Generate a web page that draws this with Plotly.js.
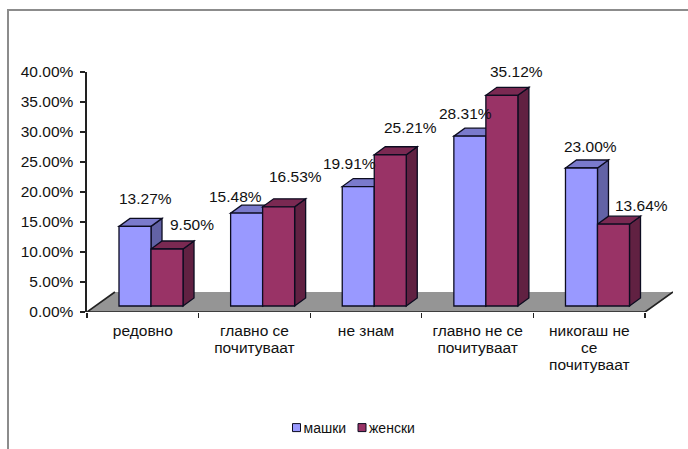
<!DOCTYPE html>
<html>
<head>
<meta charset="utf-8">
<script src="https://cdn.plot.ly/plotly-3.0.1.min.js"></script>
<style>
html,body{margin:0;padding:0;background:#fff;overflow:hidden}
#chart{position:absolute;left:0;top:0;width:688px;height:449px}
#frame{position:absolute;left:7px;top:9px;right:0;bottom:0;border-left:2px solid #8c8c8c;border-top:2px solid #8c8c8c;pointer-events:none}
</style>
</head>
<body>
<div id="chart"></div>
<div id="frame"></div>
<script>
// Data
const categories = ['редовно', 'главно се<br>почитуваат', 'не знам', 'главно не се<br>почитуваат', 'никогаш не<br>се<br>почитуваат'];
const seriesNames = ['машки', 'женски'];
const maski = [13.27, 15.48, 19.91, 28.31, 23.00];
const zenski = [9.50, 16.53, 25.21, 35.12, 13.64];
const yTicks = [0, 5, 10, 15, 20, 25, 30, 35, 40];

// Data-label nudges (px), relative to the top centre of each bar
const labelShiftX = [[10.5, -11.6, -9.2, -4.8, 8.6], [25, 16.4, 19.8, 14.2, 27.6]];
const labelShiftY = [[27.4, 17, 23, 23, 22], [25, 30, 27, 24, 19]];

// Fake-3D geometry, in axis units
const barW = 0.2867, off = [-0.2133, 0.0735];
const lift = 1;
const depthX = 0.0986, depthY = 1.33;
const floorX = 0.25, floorY = 3.33;
const xMin = -0.5, xMax = 4.5;

const front = ['#9999FF', '#993366'];
const top3d = ['#7A7ACC', '#7A2952'];
const side = ['#6262A6', '#612142'];
const edge = '#0c0c20';
const font = 'Liberation Sans, Arial, sans-serif';
const series = [maski, zenski];

const poly = (pts, fill) => ({
  type: 'path', xref: 'x', yref: 'y', layer: 'below',
  path: 'M' + pts.map(p => p[0] + ',' + p[1]).join('L') + 'Z',
  fillcolor: fill, line: {color: edge, width: 1.3}
});

const shapes = [];
shapes.push({type: 'path', xref: 'x', yref: 'y', layer: 'below',
  path: `M${xMin},0L${xMin + floorX},${floorY}L${xMax + floorX},${floorY}L${xMax},0Z`,
  fillcolor: '#959595', line: {width: 0}});
shapes.push({type: 'path', xref: 'x', yref: 'y', layer: 'below',
  path: `M${xMin + floorX},${floorY}L${xMin},0L${xMax},0L${xMax + floorX},${floorY}`,
  fillcolor: 'rgba(0,0,0,0)', line: {color: '#222', width: 1.6}});
categories.forEach((c, i) => {
  series.forEach((vals, s) => {
    const l = i + off[s], r = l + barW, t = lift + vals[i];
    shapes.push(poly([[r, lift], [r + depthX, lift + depthY], [r + depthX, t + depthY], [r, t]], side[s]));
    shapes.push(poly([[l, t], [r, t], [r + depthX, t + depthY], [l + depthX, t + depthY]], top3d[s]));
  });
});

const traces = series.map((vals, s) => ({
  type: 'bar', x: categories.map((c, i) => i), y: vals, base: lift,
  width: barW, offset: off[s], name: seriesNames[s], showlegend: false, hoverinfo: 'skip',
  marker: {color: front[s], line: {color: edge, width: 1.3}}
}));
seriesNames.forEach((n, s) => traces.push({
  type: 'scatter', mode: 'markers', x: [null], y: [null], name: n, hoverinfo: 'skip',
  marker: {symbol: 'square', size: 8, color: front[s], line: {color: edge, width: 1}}
}));

const annotations = [];
series.forEach((vals, s) => vals.forEach((v, i) => annotations.push({
  x: i + off[s] + barW / 2, y: lift + v, xref: 'x', yref: 'y',
  text: v.toFixed(2) + '%', showarrow: false, xanchor: 'center', yanchor: 'middle',
  xshift: labelShiftX[s][i], yshift: labelShiftY[s][i],
  font: {family: font, size: 15.5, color: '#111'}
})));

const layout = {
  width: 688, height: 449, autosize: false,
  margin: {l: 87, r: 15, t: 72, b: 137, pad: 0},
  paper_bgcolor: '#fff', plot_bgcolor: 'rgba(0,0,0,0)',
  barmode: 'overlay', font: {family: font, color: '#111'},
  xaxis: {
    type: 'linear', range: [xMin, xMax + floorX], showgrid: false, zeroline: false, showline: false,
    tickmode: 'array', tickvals: categories.map((c, i) => i), ticktext: categories,
    ticks: '', tickangle: 0, tickfont: {family: font, size: 15.5, color: '#111'},
    ticklabelstandoff: 7,
    minor: {tickmode: 'array', tickvals: [-0.5, 0.5, 1.5, 2.5, 3.5, 4.5], ticks: 'outside', ticklen: 5, tickwidth: 1.2, tickcolor: '#222', showgrid: false}
  },
  yaxis: {
    range: [0, 40], showgrid: false, zeroline: false, showline: true, linecolor: '#222', linewidth: 1.6,
    tickmode: 'array', tickvals: yTicks, ticktext: yTicks.map(v => v.toFixed(2) + '%'),
    ticks: 'outside', ticklen: 5, tickwidth: 1.2, tickcolor: '#222',
    tickfont: {family: font, size: 15.5, color: '#111'}, ticklabelstandoff: 4
  },
  legend: {
    orientation: 'h', xref: 'container', yref: 'container',
    x: 276.5 / 688, xanchor: 'left', y: 1 - 428 / 449, yanchor: 'middle',
    entrywidthmode: 'pixels', entrywidth: 60, itemwidth: 30,
    font: {family: font, size: 14, color: '#111'}, bgcolor: 'rgba(0,0,0,0)'
  },
  shapes: shapes, annotations: annotations, showlegend: true
};

// Small finishing touches Plotly has no attribute for: tighter line spacing in the
// category labels, and tighter swatch/text spacing in the legend.
const catLineStep = 17.3, legendAdvance = 65.5, legendTextPull = 13;
Plotly.newPlot('chart', traces, layout, {displayModeBar: false, staticPlot: true}).then(gd => {
  gd.querySelectorAll('.xtick text').forEach(t => {
    t.querySelectorAll('tspan.line').forEach((sp, n) => sp.setAttribute('dy', (n * catLineStep) + 'px'));
  });
  const items = gd.querySelectorAll('.legend .traces');
  const first = /translate\(\s*([-\d.]+)[ ,]+([-\d.]+)/.exec(items[0].getAttribute('transform'));
  items.forEach((it, n) => {
    it.setAttribute('transform', `translate(${+first[1] + n * legendAdvance},${first[2]})`);
    const t = it.querySelector('.legendtext');
    t.setAttribute('x', +t.getAttribute('x') - legendTextPull);
    t.querySelectorAll('tspan').forEach(sp => { if (sp.hasAttribute('x')) sp.setAttribute('x', +sp.getAttribute('x') - legendTextPull); });
  });
  const sb = gd.querySelector('.legend .scrollbox');
  if (sb) sb.removeAttribute('clip-path');
});
</script>
</body>
</html>
